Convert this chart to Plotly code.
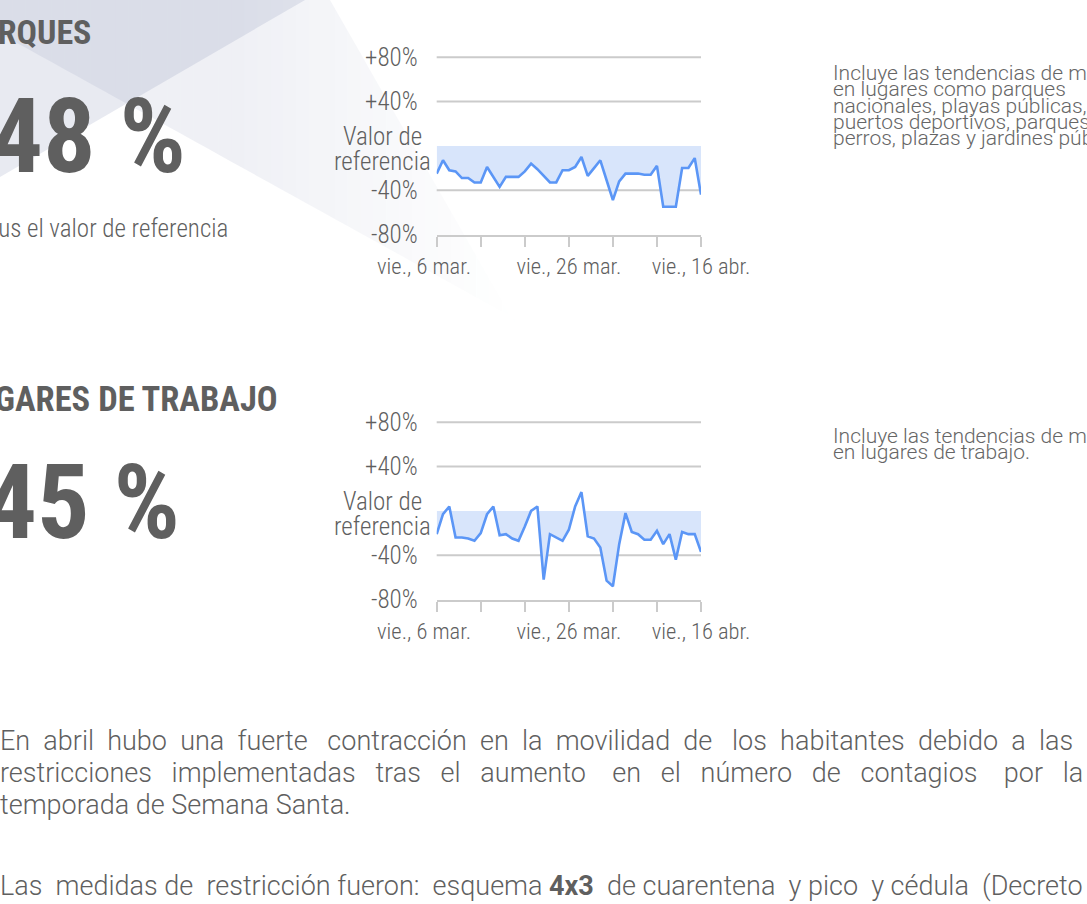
import plotly.graph_objects as go
import pandas as pd

# ---------------- data ----------------
fechas = [d.strftime("%Y-%m-%d") for d in pd.date_range("2021-03-05", "2021-04-16", freq="D")]
dias = list(range(len(fechas)))

parques = [-25, -13, -22, -23, -29, -29, -33, -33, -19, -28, -37, -28, -28, -28, -23,
           -16, -21, -27, -33, -33, -22, -22, -19, -10, -27, -20, -13, -31, -49, -32,
           -25, -25, -25, -26, -26, -18, -55, -55, -55, -20, -20, -11, -44]
trabajo = [-21, -3, 4, -24, -24, -25, -27, -20, -3, 4, -22, -21, -25, -27, -14,
           0, 4, -62, -21, -24, -27, -17, 4, 17, -23, -25, -33, -63, -68, -30,
           -2, -19, -21, -26, -26, -18, -30, -21, -44, -19, -21, -21, -37]

y_tickvals = [80, 40, 0, -40, -80]
y_ticktext = ["+80%", "+40%", "", "-40%", "-80%"]
ref_label = ["Valor de", "referencia"]
x_tickvals = [0, 7, 14, 21, 28, 35, 42]
x_ticktext = ["vie., 6 mar.\u00a0\u00a0\u00a0\u00a0\u00a0", "", "", "vie., 26 mar.", "", "", "vie., 16 abr."]

# ---------------- style ----------------
OFF = 0                      # body margin removed by post_script
W, H = 1087 - OFF, 904 - OFF
COND = "Roboto Condensed, Liberation Sans Narrow, Roboto, sans-serif"
BODY = "Roboto, Open Sans, sans-serif"
TXT = "#5f5f5f"
LINE = "#5b96f6"
FILL = "#d8e5fb"
GRID = "#cbcbcb"
NB = "\u00a0"


def px(x):
    return (x - OFF) / W


def py(y):
    return 1 - (y - OFF) / H


def below_zero(xs, vals):
    ox, oy = [], []
    for i, v in enumerate(vals):
        if i > 0:
            a = vals[i - 1]
            if (a < 0 < v) or (v < 0 < a):
                t = a / (a - v)
                ox.append(xs[i - 1] + t * (xs[i] - xs[i - 1]))
                oy.append(0)
        ox.append(xs[i])
        oy.append(min(v, 0))
    return ox, oy


fig = go.Figure()

for idx, serie in ((1, parques), (2, trabajo)):
    xa = "x" if idx == 1 else "x2"
    ya = "y" if idx == 1 else "y2"
    fx, fy = below_zero(dias, serie)
    fig.add_trace(go.Scatter(x=fx, y=fy, mode="lines", line=dict(width=0, color=FILL),
                             fill="tozeroy", fillcolor=FILL, hoverinfo="skip",
                             showlegend=False, xaxis=xa, yaxis=ya))
    fig.add_trace(go.Scatter(x=dias, y=serie, mode="lines", customdata=fechas,
                             line=dict(width=2.6, color=LINE), showlegend=False,
                             hovertemplate="%{customdata}: %{y}%<extra></extra>",
                             xaxis=xa, yaxis=ya))

xdom = [px(436.7), px(701)]
axis_x = dict(domain=xdom, range=[0, 42], tickvals=x_tickvals, ticktext=x_ticktext,
              showgrid=False, zeroline=False, showline=True, linecolor=GRID, linewidth=2,
              ticks="outside", ticklen=10, tickwidth=2, tickcolor=GRID, automargin=False,
              tickfont=dict(family=COND, size=22.5, color=TXT, weight=300), fixedrange=True)
axis_y = dict(range=[-80, 82], tickvals=y_tickvals, ticktext=y_ticktext,
              showgrid=False, zeroline=False, showline=False, ticks="",
              ticklabelstandoff=18, automargin=False,
              tickfont=dict(family=COND, size=25, color=TXT, weight=300), fixedrange=True)

fig.update_layout(
    width=W, height=H, autosize=False,
    margin=dict(l=0, r=0, t=0, b=0, pad=0, autoexpand=False),
    paper_bgcolor="white", plot_bgcolor="rgba(0,0,0,0)",
    showlegend=False,
    xaxis=dict(axis_x, anchor="y"),
    yaxis=dict(axis_y, domain=[py(234.5), py(55.1)], anchor="x"),
    xaxis2=dict(axis_x, anchor="y2"),
    yaxis2=dict(axis_y, domain=[py(599.5), py(420.1)], anchor="x2"),
)

shapes = []
# background decoration: fading band (vertical strips) and darker triangle
BASE = "120,128,172"


def top_edge(x):
    return 0 if x <= 330 else 1.75 * (x - 330)


def low_edge(x):
    return 33.5 + 0.554 * x


n = 40
x_end = 515
for k in range(n):
    xa_, xb_ = x_end * k / n, x_end * (k + 1) / n
    xm = (xa_ + xb_) / 2
    alpha = 0.12 if xm < 230 else 0.12 * max(0.0, (x_end - xm) / (x_end - 230))
    pts = [(xa_, top_edge(xa_))]
    if xa_ < 330 < xb_:
        pts.append((330, 0))
    pts += [(xb_, top_edge(xb_)), (xb_, low_edge(xb_)), (xa_, low_edge(xa_))]
    path = "M " + " L ".join(f"{px(a):.5f},{py(b):.5f}" for a, b in pts) + " Z"
    shapes.append(dict(type="path", path=path, xref="paper", yref="paper",
                       fillcolor=f"rgba({BASE},{alpha:.4f})", line=dict(width=0), layer="below"))
path = "M " + " L ".join(f"{px(a):.5f},{py(b):.5f}" for a, b in [(0, 0), (305, 0), (0, 177)]) + " Z"
shapes.append(dict(type="path", path=path, xref="paper", yref="paper",
                   fillcolor=f"rgba({BASE},0.17)", line=dict(width=0), layer="below"))

# gridlines
for ya in ("y", "y2"):
    xr = "x domain" if ya == "y" else "x2 domain"
    for gv in (80, 40, -40):
        shapes.append(dict(type="line", xref=xr, yref=ya, x0=0, x1=1, y0=gv, y1=gv,
                           line=dict(color=GRID, width=2), layer="below"))
fig.update_layout(shapes=shapes)

ann = []


def add_text(text, x, y, size, xanchor="left", bold=False, color=TXT, family=COND, weight=None):
    f = dict(family=family, size=size, color=color)
    if weight:
        f["weight"] = weight
    ann.append(dict(text=f"<b>{text}</b>" if bold else text, x=px(x), y=py(y),
                    xref="paper", yref="paper", xanchor=xanchor, yanchor="middle",
                    showarrow=False, font=f, align="left"))


def justify(line, per_gap):
    words = line.split(" ")
    out = words[0]
    for i, w in enumerate(words[1:]):
        out += " " + NB * per_gap[i % len(per_gap)] + w
    return out


# "Valor de referencia" label beside the zero level of each chart
for ya in ("y", "y2"):
    for j, t in enumerate(ref_label):
        ann.append(dict(text=t, x=px(382), y=0, xref="paper", yref=ya,
                        yshift=9 - 25 * j, xanchor="center", yanchor="middle", showarrow=False,
                        font=dict(family=COND, size=25, color=TXT, weight=300)))

add_text("PARQUES", 93, 32, 34, "right", bold=True)
add_text("-48 %", 188, 136, 104, "right", bold=True)
add_text("Versus el valor de referencia", 230, 229, 25, "right", weight=300)
add_text("LUGARES DE TRABAJO", 280, 399, 34.5, "right", bold=True)
add_text("-45 %", 182, 503, 104, "right", bold=True)

parques_desc = ["Incluye las tendencias de movilidad", "en lugares como parques",
                "nacionales, playas públicas,", "puertos deportivos, parques para",
                "perros, plazas y jardines públicos."]
for i, t in enumerate(parques_desc):
    add_text(t, 831, 73 + i * 16.3, 21, family=BODY, weight=300, color="#666666")
trabajo_desc = ["Incluye las tendencias de movilidad", "en lugares de trabajo."]
for i, t in enumerate(trabajo_desc):
    add_text(t, 831, 436 + i * 16.3, 21, family=BODY, weight=300, color="#666666")

parrafo = ["En abril hubo una fuerte contracción en la movilidad de los habitantes debido a las",
           "restricciones implementadas tras el aumento en el número de contagios por la",
           "temporada de Semana Santa."]
add_text(justify(parrafo[0], [1, 1, 1, 1, 2]), -2, 741, 27, family=BODY, weight=300)
add_text(justify(parrafo[1], [2, 2, 2, 2, 3]), -2, 773, 27, family=BODY, weight=300)
add_text(parrafo[2], -2, 805, 27, family=BODY, weight=300)
add_text(justify("Las medidas de restricción fueron: esquema <b>4x3</b> de cuarentena y pico y cédula (Decreto 135)",
                 [1, 0]), -2, 886, 27, family=BODY, weight=300)

fig.update_layout(annotations=ann)
fig.write_html("out.html", include_plotlyjs=True, config={"displayModeBar": False},
               post_script="document.body.style.margin='0';document.body.style.overflow='hidden';")
